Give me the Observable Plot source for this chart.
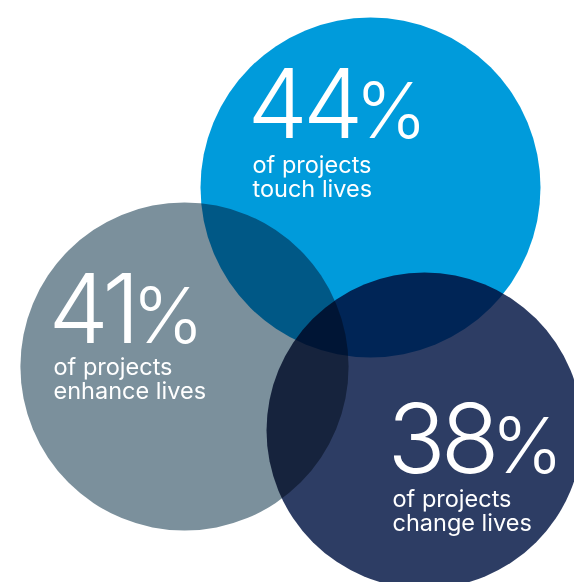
<!DOCTYPE html>
<html>
<head>
<meta charset="utf-8">
<script src="https://cdn.jsdelivr.net/npm/d3@7"></script>
<script src="https://cdn.jsdelivr.net/npm/@observablehq/plot@0.6"></script>
<style>
  html, body { margin: 0; padding: 0; background: #ffffff; }
  #chart { width: 574px; height: 582px; overflow: hidden; }
  svg { display: block; }
</style>
</head>
<body>
<div id="chart"></div>
<script>
// ---- data ----
const names = ["touch", "enhance", "change"];
const values = [44, 41, 38];
const captions = ["of projects\ntouch lives", "of projects\nenhance lives", "of projects\nchange lives"];
const colors = ["#009bdb", "#7b909c", "#2d3d64"];

// ---- layout (in chart units) ----
const centerX = [370, 184, 424];
const centerY = [187, 366, 430];
const textX = [252, 53, 392];
const numberBaseline = [137, 342, 472];
const captionBaseline = [196, 398, 530];

const rows = names.map((n, i) => ({
  name: n, value: values[i], caption: captions[i],
  cx: centerX[i], cy: centerY[i], tx: textX[i], ny: numberBaseline[i], capy: captionBaseline[i]
}));

const chart = Plot.plot({
  width: 574,
  height: 582,
  margin: 0,
  style: { background: "#ffffff", overflow: "visible" },
  x: { domain: [0, 574], range: [0, 574], axis: null },
  y: { domain: [0, 582], range: [0, 582], axis: null },
  r: { type: "sqrt", domain: [0, 44], range: [0, 170] },
  color: { domain: names, range: colors },
  marks: [
    Plot.dot(rows, { x: "cx", y: "cy", r: "value", fill: "name", fillOpacity: 1 }),
    Plot.text(rows, {
      x: "tx", y: "ny", text: d => d.value + "%", dx: -5,
      textAnchor: "start", lineAnchor: "bottom",
      fill: "white", fontSize: 96, fontWeight: 300,
      fontFamily: "Inter, Roboto, 'Liberation Sans', sans-serif"
    }),
    Plot.text(rows, {
      x: "tx", y: "capy", text: "caption",
      textAnchor: "start", lineAnchor: "bottom", lineHeight: 1.0,
      fill: "white", fontSize: 23.5, fontWeight: 400,
      fontFamily: "Inter, Roboto, 'Liberation Sans', sans-serif"
    })
  ]
});

const svg = d3.select(chart);
svg.selectAll("circle").style("mix-blend-mode", "multiply");
svg.selectAll("text").each(function () {
  const t = this.textContent;
  if (/%$/.test(t)) {
    const el = d3.select(this);
    el.text(t.slice(0, -1)).attr("letter-spacing", "-5");
    el.append("tspan").attr("font-size", "0.8em").attr("dx", "-3").attr("letter-spacing", "0").text("%");
  }
});

document.getElementById("chart").appendChild(chart);
</script>
</body>
</html>
